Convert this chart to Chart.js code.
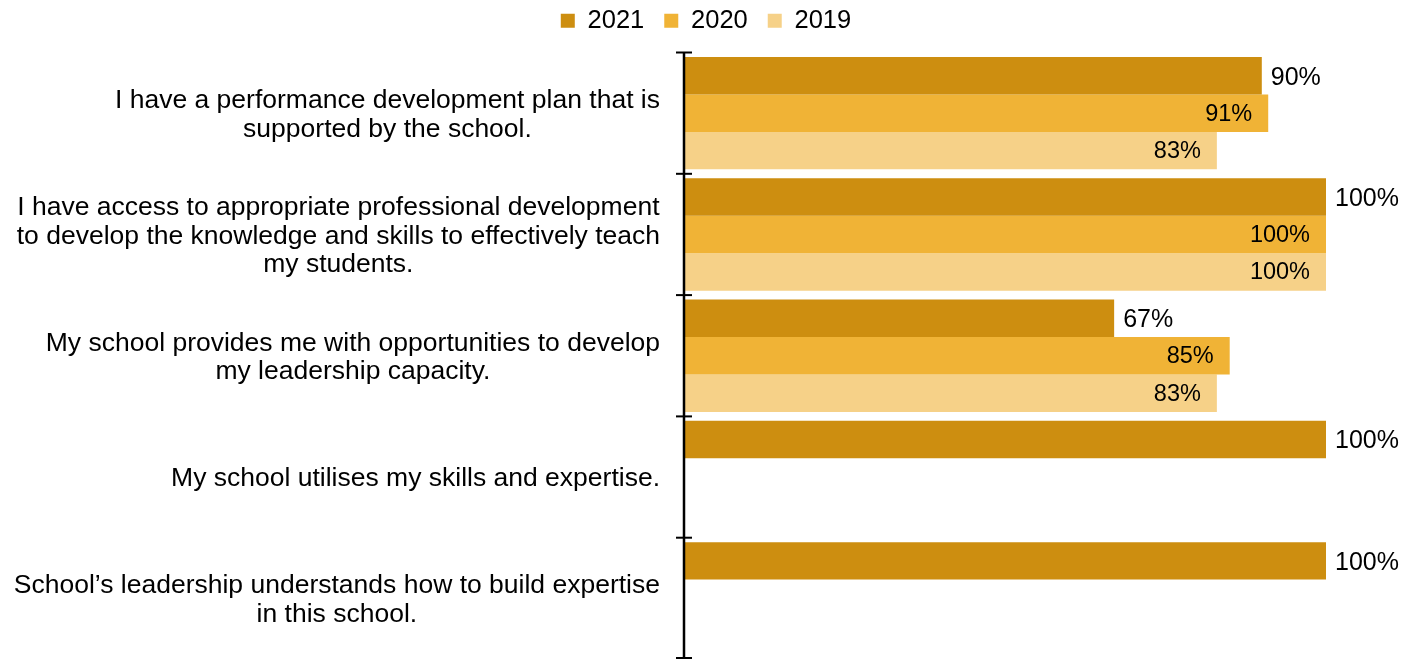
<!DOCTYPE html>
<html>
<head>
<meta charset="utf-8">
<script src="https://cdn.jsdelivr.net/npm/chart.js@4/dist/chart.umd.min.js"></script>
<style>
  html, body { margin: 0; padding: 0; background: #fff; }
  #wrap { width: 1418px; height: 660px; }
</style>
</head>
<body>
<div id="wrap"><canvas id="chart"></canvas></div>
<script>
const categories = [
  ["I have a performance development plan that is", "supported by the school."],
  ["I have access to appropriate professional development", "to develop the knowledge and skills to effectively teach", "my students."],
  ["My school provides me with opportunities to develop", "my leadership capacity."],
  ["My school utilises my skills and expertise."],
  ["School\u2019s leadership understands how to build expertise", "in this school."],
];
const values2021 = [90, 100, 67, 100, 100];
const values2020 = [91, 100, 85, null, null];
const values2019 = [83, 100, 83, null, null];

const FONT = "'Liberation Sans', Arial, sans-serif";

// value labels, axis line + crossing ticks, category labels (lines centred in a right-aligned block)
const extras = {
  id: "extras",
  afterDatasetsDraw(chart) {
    const ctx = chart.ctx;
    ctx.save();
    ctx.textBaseline = "middle";
    ctx.fillStyle = "#000";
    chart.data.datasets.forEach((ds, di) => {
      const meta = chart.getDatasetMeta(di);
      meta.data.forEach((bar, i) => {
        const v = ds.data[i];
        if (v == null) return;
        if (di === 0) {
          ctx.font = "25px " + FONT;
          ctx.textAlign = "left";
          ctx.fillText(v + "%", bar.x + 9, bar.y + 2);
        } else {
          ctx.font = "23.5px " + FONT;
          ctx.textAlign = "right";
          ctx.fillText(v + "%", bar.x - 16, bar.y + 1);
        }
      });
    });
    ctx.restore();
  },
  afterDraw(chart) {
    const { ctx, chartArea } = chart;
    const y = chart.scales.y;
    const n = chart.data.labels.length;
    ctx.save();

    ctx.strokeStyle = "#000";
    ctx.lineWidth = 2.5;
    ctx.beginPath();
    ctx.moveTo(chartArea.left, chartArea.top);
    ctx.lineTo(chartArea.left, chartArea.bottom);
    ctx.stroke();
    ctx.lineWidth = 2;
    for (let i = 0; i <= n; i++) {
      let py;
      if (i === 0) py = chartArea.top;
      else if (i === n) py = chartArea.bottom - 1;
      else py = (y.getPixelForValue(i - 1) + y.getPixelForValue(i)) / 2;
      ctx.beginPath();
      ctx.moveTo(chartArea.left - 8, py);
      ctx.lineTo(chartArea.left + 8, py);
      ctx.stroke();
    }

    ctx.font = "26.5px " + FONT;
    ctx.fillStyle = "#000";
    ctx.textAlign = "center";
    ctx.textBaseline = "middle";
    const lh = 28.5;
    const right = chartArea.left - 24;
    chart.data.labels.forEach((lines, i) => {
      const cy = y.getPixelForValue(i);
      const w = Math.max(...lines.map(l => ctx.measureText(l).width));
      const cx = right - w / 2;
      lines.forEach((l, k) => {
        ctx.fillText(l, cx, cy + (k - (lines.length - 1) / 2) * lh + 2);
      });
    });
    ctx.restore();
  },
};

const chart = document.querySelector("#chart").getContext("2d");

new Chart(chart, {
  type: "bar",
  data: {
    labels: categories,
    datasets: [
      { label: "2021", data: values2021, backgroundColor: "#CD8E10" },
      { label: "2020", data: values2020, backgroundColor: "#F0B336" },
      { label: "2019", data: values2019, backgroundColor: "#F6D188" },
    ],
  },
  options: {
    indexAxis: "y",
    responsive: true,
    maintainAspectRatio: false,
    animation: false,
    categoryPercentage: 0.927,
    barPercentage: 1,
    layout: { padding: { top: -12, right: 92, bottom: 1, left: 86 } },
    plugins: {
      legend: {
        position: "top",
        labels: {
          boxWidth: 14,
          boxHeight: 14,
          padding: 20,
          color: "#000",
          font: { family: FONT, size: 25.5 },
        },
      },
      tooltip: { enabled: false },
    },
    scales: {
      x: {
        position: "top",
        min: 0,
        max: 100,
        ticks: { display: false },
        grid: { display: false },
        border: { display: false },
        afterFit: (s) => { s.height = 9; },
      },
      y: {
        ticks: { display: false },
        grid: { display: false },
        border: { display: false },
        afterFit: (s) => { s.width = 598; },
      },
    },
  },
  plugins: [extras],
});
</script>
</body>
</html>
